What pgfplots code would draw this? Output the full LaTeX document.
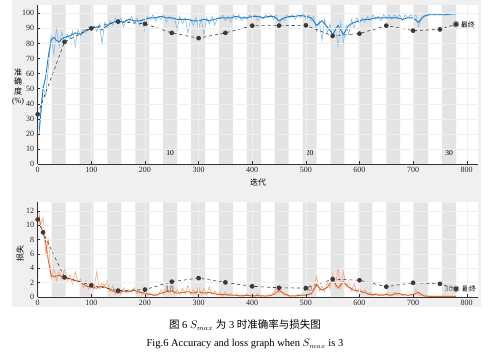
\documentclass[border=0pt]{standalone}
\usepackage{pgfplots}
\usepackage{pgfplotstable}
\pgfplotsset{compat=1.18}
\usepackage{fontspec}
\setmainfont{Liberation Serif}
\newfontfamily\cjk{Noto Sans CJK SC}
\definecolor{figbg}{HTML}{F0F0F0}
\definecolor{band}{HTML}{E4E4E4}
\definecolor{accraw}{HTML}{86BDE8}
\definecolor{accsm}{HTML}{1F7FCB}
\definecolor{lossraw}{HTML}{F2A884}
\definecolor{losssm}{HTML}{E0602A}
\definecolor{val}{HTML}{3A3A3A}

\pgfplotstableread{
x y
0 10
5 35
10 52
15 45
20 65
25 85
30 73
35 90
40 78
45 88
50 80
55 86
60 83
65 88
70 78
75 89
80 85
85 90
90 87
95 91
100 89
105 92
110 88
115 93
120 80
125 94
130 90
135 95
140 92
145 97
150 93
155 97
160 91
165 96
170 94
175 98
180 93
185 97
190 92
195 96
200 88
205 98
210 96
215 99
220 95
225 98
230 96
235 99
240 94
245 98
250 96
255 97
260 89
265 98
270 93
275 97
280 87
285 96
290 92
295 97
300 90
305 96
310 86
315 97
320 93
325 98
330 92
335 97
340 96
345 99
350 95
355 98
360 94
365 99
370 96
375 99
380 95
385 98
390 96
395 99
400 97
405 99
410 95
415 98
420 96
425 99
430 97
435 99
440 96
445 99
450 92
455 97
460 95
465 99
470 97
475 99
480 96
485 99
490 97
495 100
500 96
505 99
510 95
515 98
520 88
525 95
530 82
535 96
540 87
545 93
550 84
555 90
560 78
565 94
570 80
575 92
580 86
585 96
590 90
595 97
600 93
605 97
610 94
615 98
620 95
625 99
630 96
635 98
640 95
645 99
650 97
655 99
660 96
665 99
670 97
675 99
680 95
685 99
690 97
695 99
700 98
705 99
710 91
715 97
720 98
725 100
730 99
735 100
740 99
745 100
750 99
755 100
760 99
765 100
770 99
775 100
780 99
}\accraw

\pgfplotstableread{
x y
0 12
5 30
10 50
15 58
20 72
25 82
30 84
35 82
40 81
45 83
50 84
60 85
70 87
80 86
90 89
100 90
110 91
120 89
130 92
140 94
150 95
160 94
170 96
180 95
190 95
200 96
210 97
220 97
230 98
240 97
250 97
260 96
270 96
280 96
290 95
300 95
310 96
320 95
330 96
340 97
350 97
360 97
370 98
380 97
390 97
400 98
410 98
420 97
430 98
440 98
450 95
460 97
470 98
480 98
490 98.5
500 98
510 97
520 92
530 95
540 91
550 86
560 92
570 86
580 92
590 94
600 95
610 96
620 96
630 97
640 97
650 97
660 97
670 97
680 96
690 97
700 97
710 94
720 98
730 99
740 99
750 99
760 99
770 99.5
780 99.5
}\accsm

\pgfplotstableread{
x y
0 33
50 81
100 90
150 94.5
200 93
250 87
300 83.5
350 87
400 91.8
450 91.8
500 92
550 85
600 86.5
650 91.8
700 88.5
750 89.3
780 92.7
}\accval

\pgfplotstableread{
x y
0 12.8
5 10
10 11
15 6
20 8
25 2.5
30 4
35 2.2
40 3.5
45 2.4
50 4
55 2.2
60 3
65 1.8
70 3.5
75 2
80 2.5
85 1.2
90 2.2
95 1
100 2
105 1
110 3.5
115 1.1
120 2
125 1.5
130 2.2
135 0.7
140 1.5
145 0.3
150 1
155 0.4
160 1.2
165 0.5
170 1
175 0.6
180 1.3
185 0.4
190 0.9
195 0.3
200 0.8
205 0.2
210 0.5
215 0.1
220 0.4
225 0.2
230 1
235 0.3
240 1.3
245 0.5
250 1.5
255 0.4
260 1
265 0.3
270 1.2
275 0.4
280 1.6
285 0.3
290 1
295 0.4
300 1.5
305 0.3
310 1.1
315 0.2
320 1.4
325 0.3
330 0.8
335 0.2
340 0.6
345 0.1
350 0.7
355 0.1
360 0.5
365 0.1
370 0.4
375 0.05
380 0.3
385 0.05
390 0.4
395 0.1
400 0.3
405 0.05
410 0.4
415 0.05
420 0.2
425 0.05
430 0.3
435 0.1
440 0.6
445 1.3
450 0.5
455 0.8
460 0.2
465 0.3
470 0.05
475 0.2
480 0.1
485 0.3
490 0.1
495 0.4
500 0.2
505 0.6
510 0.3
515 1.2
520 2.8
525 0.8
530 1.5
535 0.7
540 2
545 1.1
550 3.2
555 1.5
560 4
565 1.2
570 3.5
575 1.4
580 2.2
585 0.8
590 1.8
595 0.6
600 1.2
605 0.4
610 1
615 0.3
620 0.6
625 0.1
630 0.5
635 0.1
640 0.4
645 0.1
650 0.5
655 0.1
660 0.3
665 0.6
670 0.2
675 0.5
680 0.1
685 0.4
690 0.1
695 0.3
700 0.2
705 1
710 0.3
715 0.1
720 0.2
725 0.05
730 0.1
740 0.05
750 0.08
760 0.05
770 0.06
780 0.05
}\lossraw

\pgfplotstableread{
x y
0 12.5
5 10
10 9
15 7.5
20 5
25 3
30 2.8
40 3
50 2.7
60 2.5
70 2.3
80 2
90 1.5
100 1.3
110 1.2
120 1.5
130 1.2
140 0.8
150 0.5
160 0.8
170 0.7
180 0.9
190 0.6
200 0.5
210 0.3
220 0.2
230 0.5
240 0.7
250 0.8
260 0.5
270 0.6
280 0.7
290 0.5
300 0.7
310 0.5
320 0.6
330 0.4
340 0.3
350 0.3
360 0.2
370 0.2
380 0.1
390 0.2
400 0.1
410 0.15
420 0.1
430 0.1
440 0.3
450 0.9
460 0.4
470 0.1
480 0.1
490 0.2
500 0.2
510 0.4
520 1.6
530 0.9
540 1.3
550 2.4
560 1.2
570 2.1
580 1.3
590 0.9
600 0.8
610 0.6
620 0.3
630 0.3
640 0.2
650 0.3
660 0.2
670 0.5
680 0.3
690 0.2
700 0.3
710 0.6
720 0.1
730 0.05
740 0.05
750 0.05
760 0.05
770 0.05
780 0.05
}\losssm

\pgfplotstableread{
x y
0 10.8
10 9.0
50 2.7
100 1.6
150 0.85
200 1.0
250 2.1
300 2.6
350 2.0
400 1.45
450 1.25
500 1.2
550 2.45
600 2.3
650 1.4
700 1.95
750 1.8
780 1.1
}\lossval

\pgfplotsset{
  common/.style={
    scale only axis, width=440.3pt, xmin=0, xmax=821,
    axis x line*=bottom, axis y line*=left,
    tick align=inside, xtick={0,100,...,800},
    grid=major, major grid style={line width=0.3pt, draw=black!6},
    axis line style={draw=black!80, line width=0.4pt, -},
    tick style={draw=black!80, line width=0.4pt},
    major tick length=2.5pt,
    ticklabel style={font=\fontsize{8}{8}\selectfont, text=black!85},
    /pgf/number format/assume math mode=true,
    axis background/.style={fill=white},
    axis on top,
    anchor=south west,
  }
}

\begin{document}
\begin{tikzpicture}[x=1pt,y=1pt]
\useasboundingbox (0,0) rectangle (493,354);
\fill[figbg] (12,47) rectangle (481,354);

% accuracy
\begin{axis}[common, at={(37.7pt,190pt)}, height=159pt, ymin=0, ymax=105.5,
  ytick={0,10,...,100}]
\addplot[ybar interval, fill=band, draw=none, forget plot] coordinates {
(0,0) (26,105.5) (52,0) (78,105.5) (104,0) (130,105.5) (156,0) (182,105.5)
(208,0) (234,105.5) (260,0) (286,105.5) (312,0) (338,105.5) (364,0) (390,105.5)
(416,0) (442,105.5) (468,0) (494,105.5) (520,0) (546,105.5) (572,0) (598,105.5)
(624,0) (650,105.5) (676,0) (702,105.5) (728,0) (754,105.5) (780,0)};
\addplot[accraw, line width=0.6pt] table[x=x,y=y] {\accraw};
\addplot[accsm, line width=0.9pt] table[x=x,y=y] {\accsm};
\addplot[val, dashed, line width=0.6pt, mark=*, mark size=2pt,
  mark options={solid, fill=val}] table[x=x,y=y] {\accval};
\addplot[only marks, mark=o, mark size=3pt, mark options={draw=black!55, line width=0.5pt}]
  coordinates {(780,92.7)};
\node[font=\fontsize{7.5}{7.5}\selectfont] at (axis cs:247,7) {10};
\node[font=\fontsize{7.5}{7.5}\selectfont] at (axis cs:507,7) {20};
\node[font=\fontsize{7.5}{7.5}\selectfont] at (axis cs:767,7) {30};
\node[anchor=west, font=\cjk\fontsize{7}{7}\selectfont, inner sep=1pt] at (axis cs:787,92.2) {最终};
\end{axis}

% loss
\begin{axis}[common, at={(37.7pt,57.3pt)}, height=94.4pt, ymin=0, ymax=13.2,
  ytick={0,2,...,12}]
\addplot[ybar interval, fill=band, draw=none, forget plot] coordinates {
(0,0) (26,13.2) (52,0) (78,13.2) (104,0) (130,13.2) (156,0) (182,13.2)
(208,0) (234,13.2) (260,0) (286,13.2) (312,0) (338,13.2) (364,0) (390,13.2)
(416,0) (442,13.2) (468,0) (494,13.2) (520,0) (546,13.2) (572,0) (598,13.2)
(624,0) (650,13.2) (676,0) (702,13.2) (728,0) (754,13.2) (780,0)};
\addplot[lossraw, line width=0.6pt] table[x=x,y=y] {\lossraw};
\addplot[losssm, line width=0.9pt] table[x=x,y=y] {\losssm};
\addplot[val, dashed, line width=0.6pt, mark=*, mark size=2pt,
  mark options={solid, fill=val}] table[x=x,y=y] {\lossval};
\addplot[only marks, mark=o, mark size=3pt, mark options={draw=black!55, line width=0.5pt}]
  coordinates {(780,1.1)};
\node[font=\sffamily\fontsize{8}{8}\selectfont, text=black!55] at (axis cs:246,1.1) {10};
\node[font=\sffamily\fontsize{8}{8}\selectfont, text=black!55] at (axis cs:504,1.1) {20};
\node[font=\sffamily\fontsize{8}{8}\selectfont, text=black!55] at (axis cs:766,1.1) {30};
\node[anchor=west, font=\cjk\fontsize{7}{7}\selectfont, inner sep=1pt] at (axis cs:789,1.1) {最终};
\end{axis}

% labels
\node[font=\cjk\fontsize{8}{8}\selectfont] at (258,171.3) {迭代};
\node[align=center, font=\fontsize{8}{9.5}\selectfont] at (18,267)
  {{\cjk 准}\\{\cjk 确}\\{\cjk 度}\\(\%)};
\node[rotate=90, font=\cjk\fontsize{8}{8}\selectfont] at (20,101) {损失};

% caption
\node[font=\fontsize{10.5}{10.5}\selectfont] at (245,29)
  {{\cjk 图} 6 $S_{max}$ {\cjk 为} 3 {\cjk 时准确率与损失图}};
\node[font=\fontsize{10.5}{10.5}\selectfont] at (245,10)
  {Fig.6 Accuracy and loss graph when $S_{max}$ is 3};
\end{tikzpicture}
\end{document}
